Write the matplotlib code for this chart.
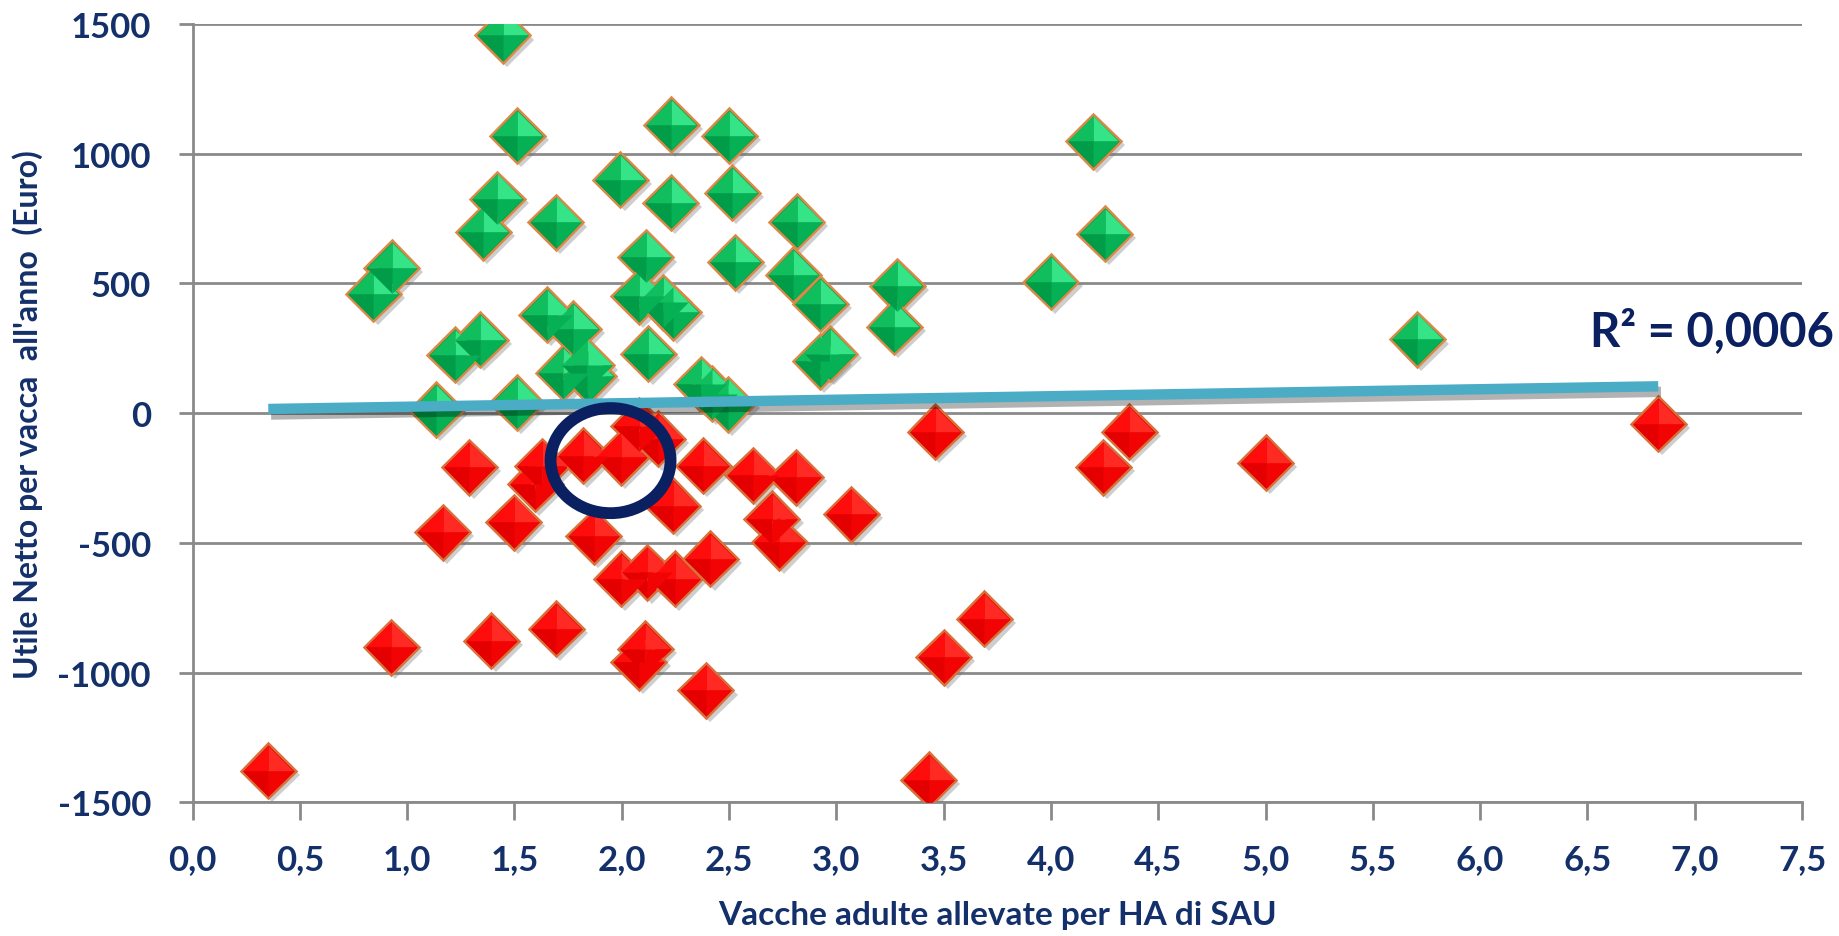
import numpy as np
import matplotlib.pyplot as plt
import matplotlib.patheffects as pe
from matplotlib.patches import Ellipse

plt.rcParams['font.family'] = ['Lato', 'DejaVu Sans']
plt.rcParams['axes.unicode_minus'] = False

# aziende con utile positivo (verdi)
green_x = [1.445, 1.512, 2.23, 2.50, 1.994, 2.228, 2.515, 1.42, 1.355, 1.692,
           2.815, 2.112, 2.528, 0.928, 0.843, 2.80, 2.924, 2.08, 2.194, 2.24,
           1.65, 1.775, 2.124, 1.223, 1.34, 2.924, 2.97, 1.728, 1.845, 1.837,
           2.37, 2.42, 2.495, 1.135, 1.51, 3.284, 3.27, 4.0, 4.197, 4.25, 5.707]
green_y = [1456, 1070, 1111, 1070, 900, 812, 850, 825, 698, 735,
           737, 600, 582, 560, 460, 534, 421, 450, 428, 389,
           380, 325, 229, 225, 283, 200, 229, 155, 142, 184,
           112, 75, 35, 13, 40, 489, 334, 506, 1048, 692, 284]

# aziende con utile negativo (rosse)
red_x = [1.29, 1.165, 1.497, 1.596, 1.63, 1.82, 1.998, 2.08, 2.168, 2.238,
         1.87, 1.997, 2.12, 2.246, 2.413, 2.38, 2.61, 2.81, 2.70, 2.735,
         0.925, 1.393, 1.695, 2.11, 2.08, 2.392, 0.353, 3.07, 3.46, 4.365,
         4.244, 5.0, 3.69, 3.50, 3.43, 6.83]
red_y = [-208, -459, -420, -273, -205, -165, -170, -48, -99, -356,
         -475, -639, -613, -639, -562, -202, -240, -247, -407, -497,
         -902, -877, -832, -909, -960, -1069, -1378, -389, -71, -71,
         -208, -191, -793, -940, -1413, -41]

# linea di tendenza
trend_slope = 13.5
trend_intercept = 11.3
r2_label = 'R² = 0,0006'

x_ticks = [0.0, 0.5, 1.0, 1.5, 2.0, 2.5, 3.0, 3.5, 4.0, 4.5, 5.0, 5.5, 6.0, 6.5, 7.0, 7.5]
x_tick_labels = ['0,0', '0,5', '1,0', '1,5', '2,0', '2,5', '3,0', '3,5', '4,0', '4,5',
                 '5,0', '5,5', '6,0', '6,5', '7,0', '7,5']
y_ticks = [-1500, -1000, -500, 0, 500, 1000, 1500]

# cerchio evidenziato
circle_center = (1.948, -183)
circle_w, circle_h = 0.559, 405

navy = '#13306A'
grey = '#8A8A8A'

fig = plt.figure(figsize=(18.39, 9.37), dpi=100)
ax = fig.add_axes([0.1047, 0.1427, 0.8752, 0.8306])

# facce del diamante "a piramide"
facets = {
    'tr': [(0, 0), (0, 1), (1, 0), (0, 0)],
    'tl': [(0, 0), (-1, 0), (0, 1), (0, 0)],
    'bl': [(0, 0), (0, -1), (-1, 0), (0, 0)],
    'br': [(0, 0), (1, 0), (0, -1), (0, 0)],
}
MS = 28


def diamonds(xs, ys, shades, edge):
    shadow = [pe.SimplePatchShadow(offset=(3, -3), shadow_rgbFace='0.45', alpha=0.35), pe.Normal()]
    ax.plot(xs, ys, linestyle='none', marker='D', markersize=MS,
            markerfacecolor=shades['bl'], markeredgecolor=edge, markeredgewidth=1.8,
            path_effects=shadow, zorder=3)
    for k, verts in facets.items():
        # le facce personalizzate vanno da -0.5 a 0.5, il 'D' da -0.707 a 0.707
        ax.plot(xs, ys, linestyle='none', marker=verts, markersize=(MS - 2.2) * 1.414,
                markerfacecolor=shades[k], markeredgecolor='none', zorder=3)


green_shades = {'tr': '#34E486', 'tl': '#10BE5E', 'bl': '#019C48', 'br': '#06B054'}
red_shades = {'tr': '#FF2A24', 'tl': '#FF0C0C', 'bl': '#E40000', 'br': '#F20404'}

diamonds(green_x, green_y, green_shades, '#D98A48')
diamonds(red_x, red_y, red_shades, '#D9703A')

all_x = np.array(green_x + red_x)
tx = np.array([all_x.min(), all_x.max()])
ax.plot(tx, trend_intercept + trend_slope * tx, color='#4BACC6', lw=7.5,
        solid_capstyle='butt', zorder=4,
        path_effects=[pe.SimpleLineShadow(offset=(2, -4), alpha=0.3), pe.Normal()])

ax.add_patch(Ellipse(circle_center, circle_w, circle_h, fill=False,
                     edgecolor='#0A2060', lw=8.5, zorder=5))

ax.text(6.51, 321, r2_label, fontsize=34, fontweight='bold', color='#0A2060',
        ha='left', va='center', zorder=6)

ax.set_xlim(0, 7.5)
ax.set_ylim(-1500, 1500)
ax.set_xticks(x_ticks)
ax.set_xticklabels(x_tick_labels)
ax.set_yticks(y_ticks)
ax.set_yticklabels([str(v) for v in y_ticks])

for lab in ax.get_xticklabels() + ax.get_yticklabels():
    lab.set_fontweight('bold')
    lab.set_color(navy)
ax.tick_params(axis='x', labelsize=25, length=13, width=2, color=grey, pad=16)
ax.tick_params(axis='y', labelsize=25, length=10, width=2, color=grey, pad=20)

ax.grid(axis='y', color=grey, lw=2)
ax.set_axisbelow(True)
for s in ['top', 'right']:
    ax.spines[s].set_visible(False)
for s in ['left', 'bottom']:
    ax.spines[s].set_color(grey)
    ax.spines[s].set_linewidth(2)

ax.set_xlabel('Vacche adulte allevate per HA di SAU', fontsize=24,
              fontweight='bold', color=navy)
ax.xaxis.set_label_coords(0.5, -0.126)
ax.set_ylabel("Utile Netto per vacca  all'anno  (Euro)", fontsize=23,
              fontweight='bold', color=navy)
ax.yaxis.set_label_coords(-0.093, 0.5)

fig.savefig('out.png', dpi=100)
